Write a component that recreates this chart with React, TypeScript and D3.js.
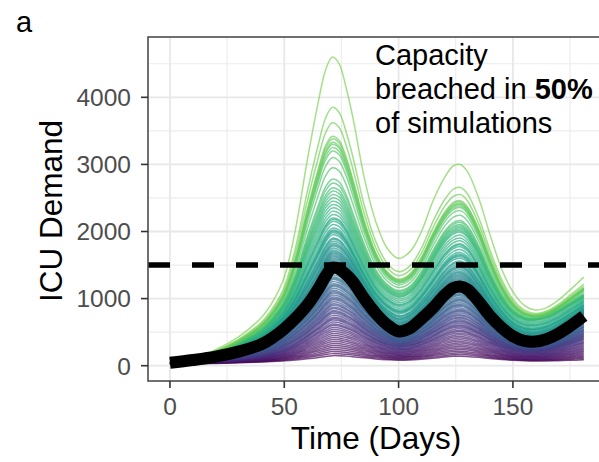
import React from "react";
import * as d3 from "d3";

// Sample days (x) for the traced curves
const DAYS = [0, 10, 20, 30, 40, 45, 50, 55, 60, 65, 68, 71, 74, 77, 80, 85, 90, 95, 100, 105, 110, 115, 120, 124, 127, 130, 135, 140, 145, 150, 155, 160, 165, 170, 175, 181];

// Traced reference simulation curves (ICU demand)
const MIN_CURVE = [20, 25, 30, 38, 45, 50, 55, 62, 70, 80, 88, 95, 95, 92, 88, 80, 72, 66, 62, 64, 70, 78, 88, 95, 98, 95, 88, 78, 70, 63, 58, 55, 54, 54, 55, 56];
const Q25_CURVE = [35, 55, 75, 105, 150, 190, 250, 330, 440, 560, 640, 700, 690, 650, 600, 490, 390, 320, 280, 300, 360, 440, 530, 580, 590, 570, 490, 390, 310, 250, 220, 215, 235, 275, 330, 400];
const MEDIAN_CURVE = [45, 85, 135, 210, 320, 420, 550, 710, 900, 1150, 1330, 1460, 1440, 1360, 1250, 1000, 780, 610, 510, 560, 700, 860, 1050, 1160, 1180, 1140, 960, 740, 570, 440, 370, 360, 400, 480, 590, 740];
const Q75_CURVE = [40, 100, 185, 320, 510, 670, 890, 1230, 1680, 2080, 2300, 2400, 2370, 2220, 1980, 1600, 1280, 1100, 1020, 1080, 1280, 1560, 1830, 1960, 1990, 1920, 1640, 1280, 980, 780, 690, 680, 720, 800, 900, 1020];
const MAX_CURVE = [40, 120, 240, 430, 720, 960, 1320, 2050, 3050, 3950, 4400, 4600, 4500, 4150, 3700, 2800, 2150, 1750, 1600, 1700, 2000, 2450, 2800, 2980, 3000, 2900, 2500, 1950, 1450, 1100, 900, 830, 870, 980, 1130, 1320];

// First-wave peak of each simulation
const SIM_PEAKS = [
  4600, 3850, 3620, 3420, 3380, 3330, 3300, 3250, 3200, 3100,
  2950, 2780, 2720, 2650, 2600, 2550, 2500, 2450, 2400, 2350,
  2300, 2250, 2200, 2180, 2150, 2100, 2050, 2020, 2000, 1980,
  1950, 1900, 1880, 1850, 1820, 1800, 1780, 1750, 1720, 1700,
  1680, 1660, 1640, 1620, 1600, 1580, 1560, 1540, 1520, 1500,
  1440, 1420, 1400, 1380, 1350, 1320, 1300, 1280, 1250, 1220,
  1200, 1180, 1150, 1120, 1100, 1080, 1050, 1020, 1000, 980,
  950, 920, 900, 870, 850, 820, 800, 780, 750, 720,
  700, 680, 650, 620, 600, 570, 540, 510, 480, 450,
  420, 390, 360, 330, 300, 270, 240, 210, 180, 150,
];

const CAPACITY = 1500;
const X_TICKS = [0, 50, 100, 150];
const X_MINOR = [25, 75, 125, 175];
const Y_TICKS = [0, 1000, 2000, 3000, 4000];
const Y_MINOR = [500, 1500, 2500, 3500, 4500];

const ANCHORS = [
  { peak: 95, curve: MIN_CURVE },
  { peak: 700, curve: Q25_CURVE },
  { peak: 1460, curve: MEDIAN_CURVE },
  { peak: 2400, curve: Q75_CURVE },
  { peak: 4600, curve: MAX_CURVE },
];

function simCurve(peak: number): number[] {
  let k = 0;
  while (k < ANCHORS.length - 2 && peak > ANCHORS[k + 1].peak) k++;
  const a = ANCHORS[k], b = ANCHORS[k + 1];
  const t = Math.max(0, Math.min(1, (peak - a.peak) / (b.peak - a.peak)));
  return a.curve.map((v, i) => v + t * (b.curve[i] - v));
}

const FONT = "'Liberation Sans', Arial, Helvetica, sans-serif";

export default function App() {
  const left = 148, right = 603, top = 37, bottom = 381;
  const x = d3.scaleLinear().domain([-9.6, 189.4]).range([left, right]);
  const y = d3.scaleLinear().domain([-228, 4899]).range([bottom, top]);

  const line = d3
    .line<number>()
    .x((_, i) => x(DAYS[i]))
    .y((v) => y(v))
    .curve(d3.curveCatmullRom.alpha(0.5));

  const sorted = [...SIM_PEAKS].sort((a, b) => a - b);
  const n = sorted.length;

  return (
    <svg
      width={599}
      height={462}
      style={{ position: "absolute", left: 0, top: 0, background: "#fff" }}
      fontFamily={FONT}
    >
      <defs>
        <clipPath id="panel">
          <rect x={left} y={top} width={right - left} height={bottom - top} />
        </clipPath>
      </defs>
      <rect x={0} y={0} width={599} height={462} fill="#fff" />
      {/* grid */}
      {Y_MINOR.map((v) => (
        <line key={"ym" + v} x1={left} x2={right} y1={y(v)} y2={y(v)} stroke="#ededed" strokeWidth={1.2} />
      ))}
      {X_MINOR.map((v) => (
        <line key={"xm" + v} x1={x(v)} x2={x(v)} y1={top} y2={bottom} stroke="#ededed" strokeWidth={1.2} />
      ))}
      {Y_TICKS.map((v) => (
        <line key={"yM" + v} x1={left} x2={right} y1={y(v)} y2={y(v)} stroke="#e8e8e8" strokeWidth={1.8} />
      ))}
      {X_TICKS.map((v) => (
        <line key={"xM" + v} x1={x(v)} x2={x(v)} y1={top} y2={bottom} stroke="#e8e8e8" strokeWidth={1.8} />
      ))}

      <g clipPath="url(#panel)">
        {sorted.map((p, i) => (
          <path
            key={"s" + i}
            d={line(simCurve(p)) || ""}
            fill="none"
            stroke={d3.interpolateViridis((0.8 * i) / (n - 1))}
            strokeOpacity={0.68}
            strokeWidth={1.5}
          />
        ))}
        <line
          x1={left}
          x2={right}
          y1={y(CAPACITY)}
          y2={y(CAPACITY)}
          stroke="#000"
          strokeWidth={5.5}
          strokeDasharray="22 22"
        />
        <path
          d={line(MEDIAN_CURVE) || ""}
          fill="none"
          stroke="#000"
          strokeWidth={12}
          strokeLinejoin="round"
        />
      </g>

      {/* panel border */}
      <rect x={left} y={top} width={right - left} height={bottom - top} fill="none" stroke="#4d4d4d" strokeWidth={1.6} />

      {/* axes ticks */}
      {Y_TICKS.map((v) => (
        <g key={"yt" + v}>
          <line x1={left - 7} x2={left} y1={y(v)} y2={y(v)} stroke="#333" strokeWidth={1.6} />
          <text x={131} y={y(v)} dy="0.36em" textAnchor="end" fontSize={24.5} fill="#4d4d4d">
            {v}
          </text>
        </g>
      ))}
      {X_TICKS.map((v) => (
        <g key={"xt" + v}>
          <line x1={x(v)} x2={x(v)} y1={bottom} y2={bottom + 7} stroke="#333" strokeWidth={1.6} />
          <text x={x(v)} y={415} textAnchor="middle" fontSize={24.5} fill="#4d4d4d">
            {v}
          </text>
        </g>
      ))}

      {/* axis titles */}
      <text x={376} y={449} textAnchor="middle" fontSize={31.5} fill="#000">
        Time (Days)
      </text>
      <text transform="translate(62,211) rotate(-90)" textAnchor="middle" fontSize={31.5} fill="#000">
        ICU Demand
      </text>

      {/* panel tag */}
      <text x={16} y={32} fontSize={29} fill="#000">
        a
      </text>

      {/* annotation */}
      <text x={375} y={65} fontSize={29} fill="#000">
        Capacity
      </text>
      <text x={375} y={99} fontSize={29} fill="#000">
        breached in <tspan fontWeight="bold">50%</tspan>
      </text>
      <text x={375} y={133} fontSize={29} fill="#000">
        of simulations
      </text>
    </svg>
  );
}
